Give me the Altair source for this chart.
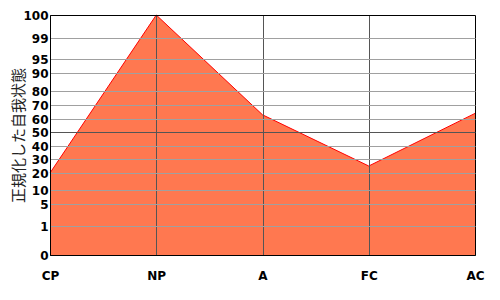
import altair as alt
import pandas as pd

categories = ["CP", "NP", "A", "FC", "AC"]
values = [20, 100, 63, 25, 64]
y_ticks = [0, 1, 5, 10, 20, 30, 40, 50, 60, 70, 80, 90, 95, 99, 100]
# piecewise probability-like scale: pixel position of each tick from top of plot
y_range = [240, 211, 189, 175, 158, 144, 131, 117, 104, 90, 76, 58, 44, 23, 0]

df = pd.DataFrame({"cat": categories, "val": values})

W, H = 425, 240

x_enc = alt.X(
    "cat:N",
    sort=categories,
    scale=alt.Scale(type="point", padding=0),
    axis=alt.Axis(
        title=None,
        labelAngle=0,
        labelFont="DejaVu Sans",
        labelFontWeight="bold",
        labelFontSize=12,
        labelColor="#000000",
        labelPadding=20,
        labelBaseline="middle",
        ticks=False,
        domain=True,
        domainColor="#000000",
        domainWidth=1,
        grid=True,
        gridColor={"condition": {"test": "datum.value === 'AC' || datum.value === 'CP'", "value": "#000000"}, "value": "#555555"},
        gridOpacity=1,
        gridWidth=1,
        zindex=1,
    ),
)

y_enc = alt.Y(
    "val:Q",
    scale=alt.Scale(domain=y_ticks, range=y_range, zero=False, nice=False, clamp=True),
    axis=alt.Axis(
        title="正規化した自我状態",
        titleFont="Noto Sans CJK JP",
        titleFontSize=15,
        titleFontWeight="normal",
        titleColor="#222222",
        titleAngle=270,
        titleX=-32,
        titleY=120,
        titleAlign="center",
        titleBaseline="middle",
        values=y_ticks,
        labelExpr="datum.value < 10 ? datum.label + '\u2007' : datum.label",
        labelFont="DejaVu Sans",
        labelFontWeight="bold",
        labelFontSize=12,
        labelColor="#000000",
        labelPadding=2,
        labelOverlap=False,
        labelBaseline="middle",
        ticks=False,
        domain=True,
        domainColor="#000000",
        domainWidth=1,
        grid=True,
        gridColor={"condition": [
            {"test": "datum.value === 100 || datum.value === 0", "value": "#000000"},
            {"test": "datum.value === 50", "value": "#555555"},
        ], "value": "#A0A0A0"},
        gridOpacity=1,
        gridWidth=1,
        zindex=1,
    ),
)

chart = (
    alt.Chart(df)
    .mark_area(color="#FF7850", opacity=1, line={"color": "#FF0000", "strokeWidth": 1})
    .encode(x=x_enc, y=y_enc, y2=alt.datum(0))
    .properties(
        width=W,
        height=H,
        autosize=alt.AutoSizeParams(type="none"),
        padding={"left": 50, "top": 15, "right": 25, "bottom": 45},
        background="#FFFFFF",
    )
    .configure_view(stroke=None)
)

chart.save("out.html", embed_options={"renderer": "svg", "actions": False})
